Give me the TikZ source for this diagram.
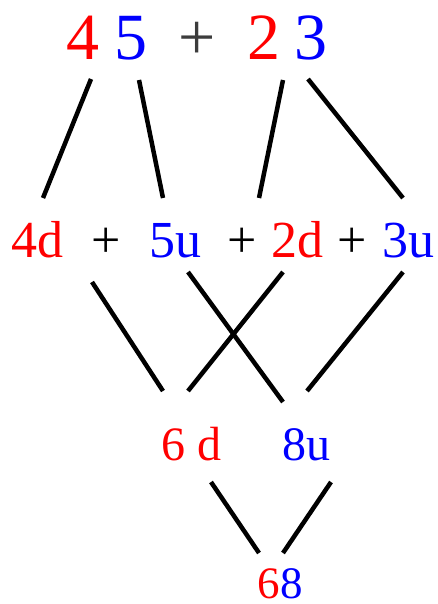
\documentclass[tikz,border=0pt]{standalone}
\usepackage{fontspec}
\setmainfont{Liberation Serif}
\definecolor{dred}{RGB}{255,0,0}
\definecolor{dblue}{RGB}{0,0,255}
\definecolor{dgray}{RGB}{60,60,60}
\begin{document}
\begin{tikzpicture}[x=1pt,y=-1pt,
  txt/.style={inner sep=0pt,anchor=base},
  top/.style={txt,font=\fontsize{66}{70}\selectfont},
  mid/.style={txt,font=\fontsize{52}{56}\selectfont},
  low/.style={txt,font=\fontsize{48}{52}\selectfont},
  bot/.style={txt,font=\fontsize{45}{48}\selectfont},
  link/.style={line width=4.5pt,black}]
\useasboundingbox (0,0) rectangle (438,604);
% top row
\node[top,dred]  (t4) at (82.5,60) {4};
\node[top,dblue] (t5) at (130.5,60) {5};
\node[top,dgray] (tp) at (197.5,60) {+};
\node[top,dred]  (t2) at (263.5,60) {2};
\node[top,dblue] (t3) at (310.5,60) {3};
% middle row
\node[mid,dred]  (m4) at (37,257) {4d};
\node[mid]       (mp1) at (106,257) {+};
\node[mid,dblue] (m5) at (175,257) {5u};
\node[mid]       (mp2) at (242.5,257) {+};
\node[mid,dred]  (m2) at (297,257) {2d};
\node[mid]       (mp3) at (352.5,257) {+};
\node[mid,dblue] (m3) at (408,257) {3u};
% lower row
\node[low,dred]  (l6) at (191.5,460) {6 d};
\node[low,dblue] (l8) at (306.5,460) {8u};
% bottom
\node[bot] (res) at (280,598.5) {\textcolor{dred}{6}\textcolor{dblue}{8}};
% connector end points
\coordinate (a1) at (91,79);  \coordinate (a2) at (43,198);
\coordinate (b1) at (139,80); \coordinate (b2) at (163,198);
\coordinate (c1) at (283,80); \coordinate (c2) at (259,198);
\coordinate (d1) at (308,79); \coordinate (d2) at (403,198);
\coordinate (e1) at (92,282);  \coordinate (e2) at (163,391);
\coordinate (f1) at (188,272); \coordinate (f2) at (283,402);
\coordinate (g1) at (283,272); \coordinate (g2) at (188,391);
\coordinate (h1) at (403,272); \coordinate (h2) at (307,391);
\coordinate (i1) at (211,482); \coordinate (i2) at (259,553);
\coordinate (j1) at (331,482); \coordinate (j2) at (283,553);
\draw[link] (a1) -- (a2);
\draw[link] (b1) -- (b2);
\draw[link] (c1) -- (c2);
\draw[link] (d1) -- (d2);
\draw[link] (e1) -- (e2);
\draw[link] (f1) -- (f2);
\draw[link] (g1) -- (g2);
\draw[link] (h1) -- (h2);
\draw[link] (i1) -- (i2);
\draw[link] (j1) -- (j2);
\end{tikzpicture}
\end{document}
